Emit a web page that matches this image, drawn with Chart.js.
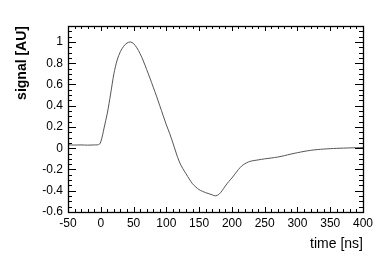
<!DOCTYPE html>
<html>
<head>
<meta charset="utf-8">
<script src="https://cdn.jsdelivr.net/npm/chart.js@4/dist/chart.umd.min.js"></script>
<style>
  html, body { margin: 0; padding: 0; background: #fff; }
  #box { width: 382px; height: 259px; }
</style>
</head>
<body>
<div id="box"><canvas id="canvas"></canvas></div>
<script>
// casove body [ns] a signal [AU]
var casy = [-50, -40, -30, -20, -10, -5, -2, 0, 3, 5, 10, 15, 20, 25, 30, 35, 40, 45, 50, 55, 60, 65,
    70, 75, 80, 85, 90, 95, 100, 105, 110, 115, 120, 125, 130, 135, 140, 145, 150, 155, 160, 165,
    170, 175, 180, 185, 190, 195, 200, 205, 210, 215, 220, 225, 230, 240, 250, 260, 270, 280, 290, 300,
    310, 320, 330, 340, 350, 360, 370, 380, 390, 400];
var signal = [0.032, 0.030, 0.031, 0.029, 0.031, 0.032, 0.038, 0.06, 0.13, 0.19, 0.33, 0.51, 0.70, 0.83, 0.91, 0.96, 0.99, 1.0, 0.985, 0.945, 0.89, 0.82,
    0.74, 0.66, 0.575, 0.49, 0.40, 0.31, 0.22, 0.14, 0.05, -0.045, -0.13, -0.19, -0.24, -0.29, -0.335, -0.365, -0.39, -0.405, -0.418, -0.428,
    -0.439, -0.448, -0.435, -0.40, -0.355, -0.315, -0.28, -0.24, -0.20, -0.167, -0.145, -0.13, -0.12, -0.11, -0.10, -0.092, -0.083, -0.07, -0.055, -0.042,
    -0.03, -0.02, -0.013, -0.008, -0.004, -0.001, 0.001, 0.003, 0.005, 0.006];

var xTicky = [-50, 0, 50, 100, 150, 200, 250, 300, 350, 400];
var yTicky = [-0.6, -0.4, -0.2, 0, 0.2, 0.4, 0.6, 0.8, 1];

const X_MIN = -50, X_MAX = 400;
const Y_MIN = -0.6, Y_MAX = 1.15;
const PISMO = "'Liberation Sans', Arial, Helvetica, sans-serif";

var body = [];
for (var i = 0; i < casy.length; i++) {
    body.push({x: casy[i], y: signal[i]});
}

// ramik a ticky dovnutra (styl ROOT)
var ramik = {
    id: 'ramik',
    afterDraw: function (chart) {
        var ctx = chart.ctx;
        var a = chart.chartArea;
        var sx = chart.scales.x;
        var sy = chart.scales.y;
        ctx.save();
        ctx.strokeStyle = '#000';
        ctx.lineWidth = 1;
        ctx.beginPath();
        // x ticky, hlavne po 50, vedlajsie po 10
        for (var v = X_MIN; v <= X_MAX + 0.001; v += 10) {
            var px = Math.round(sx.getPixelForValue(v)) + 0.5;
            var dl = (Math.abs(v % 50) < 0.001) ? 5 : 3;
            ctx.moveTo(px, a.bottom); ctx.lineTo(px, a.bottom - dl);
            ctx.moveTo(px, a.top); ctx.lineTo(px, a.top + dl);
        }
        // y ticky, hlavne po 0.2, vedlajsie po 0.05
        for (var k = -12; k <= 23; k++) {
            var hod = k * 0.05;
            if (hod > Y_MAX + 0.001) break;
            var py = Math.round(sy.getPixelForValue(hod)) + 0.5;
            var hl = (k % 4 === 0);
            var dlY = hl ? 8 : 4;
            ctx.moveTo(a.left, py); ctx.lineTo(a.left + dlY, py);
            ctx.moveTo(a.right, py); ctx.lineTo(a.right - dlY, py);
        }
        ctx.stroke();
        ctx.lineWidth = 1.3;
        ctx.strokeRect(Math.round(a.left) + 0.5, Math.round(a.top) + 0.5,
            Math.round(a.right - a.left), Math.round(a.bottom - a.top));
        ctx.restore();
    }
};

var canvas = document.getElementById('canvas');
new Chart(canvas, {
    type: 'line',
    data: {
        datasets: [{
            data: body,
            borderColor: '#555',
            borderWidth: 1,
            pointRadius: 0,
            tension: 0.3,
            fill: false
        }]
    },
    options: {
        responsive: true,
        maintainAspectRatio: false,
        animation: false,
        layout: { padding: { left: 0, top: 26, right: 19, bottom: 0 } },
        plugins: { legend: { display: false }, tooltip: { enabled: false } },
        scales: {
            x: {
                type: 'linear',
                min: X_MIN,
                max: X_MAX,
                afterBuildTicks: function (s) { s.ticks = xTicky.map(function (v) { return {value: v}; }); },
                afterFit: function (s) { s.height = 47; },
                grid: { display: false, drawTicks: false },
                border: { display: false },
                ticks: {
                    padding: 4,
                    color: '#000',
                    maxRotation: 0,
                    autoSkip: false,
                    font: { family: PISMO, size: 12 },
                    callback: function (v) { return String(v); }
                },
                title: {
                    display: true,
                    text: 'time [ns]',
                    align: 'end',
                    color: '#000',
                    font: { family: PISMO, size: 14 },
                    padding: { top: 0, bottom: 6 }
                }
            },
            y: {
                type: 'linear',
                min: Y_MIN,
                max: Y_MAX,
                afterBuildTicks: function (s) { s.ticks = yTicky.map(function (v) { return {value: v}; }); },
                afterFit: function (s) { s.width = 68; },
                grid: { display: false, drawTicks: false },
                border: { display: false },
                ticks: {
                    padding: 5,
                    color: '#000',
                    autoSkip: false,
                    font: { family: PISMO, size: 12 },
                    callback: function (v) { return String(Math.round(v * 10) / 10); }
                },
                title: {
                    display: true,
                    text: 'signal [AU]',
                    align: 'end',
                    color: '#000',
                    font: { family: PISMO, size: 14, weight: 'bold' },
                    padding: { top: 14, bottom: 0 }
                }
            }
        }
    },
    plugins: [ramik]
});
</script>
</body>
</html>
